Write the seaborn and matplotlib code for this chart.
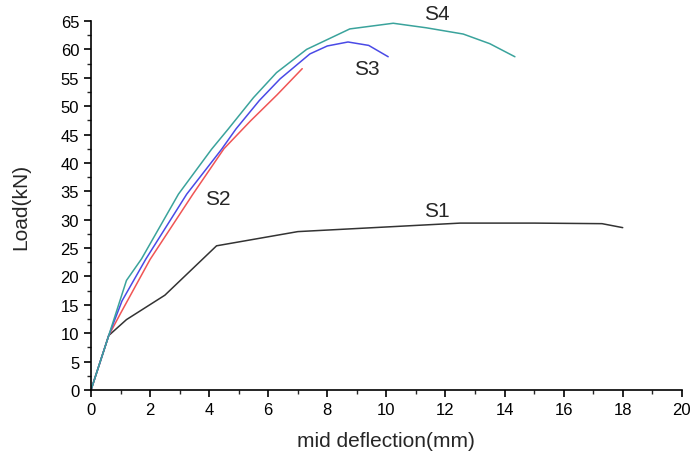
import matplotlib
matplotlib.use("Agg")
import matplotlib.pyplot as plt
import seaborn as sns
from matplotlib.ticker import MultipleLocator

# load-deflection curves
s1_x = [0, 0.6, 1.2, 2.5, 4.25, 7.0, 10.3, 12.5, 15.0, 17.3, 18.0]
s1_y = [0, 9.6, 12.4, 16.7, 25.4, 27.9, 28.8, 29.4, 29.4, 29.3, 28.6]

s2_x = [0, 0.6, 1.0, 2.0, 3.45, 4.5, 5.4, 6.3, 7.15]
s2_y = [0, 9.6, 13.5, 23.0, 34.5, 42.5, 47.4, 52.0, 56.6]

s3_x = [0, 0.6, 1.05, 1.86, 3.24, 4.42, 4.91, 5.7, 6.4, 7.41, 8.0, 8.7, 9.4, 10.06]
s3_y = [0, 9.6, 15.7, 23.1, 34.5, 42.4, 46.0, 51.0, 54.8, 59.2, 60.6, 61.3, 60.7, 58.7]

s4_x = [0, 0.6, 1.2, 1.71, 2.96, 4.08, 4.65, 5.5, 6.28, 7.3, 8.03, 8.76, 10.23, 11.35, 12.6, 13.5, 14.35]
s4_y = [0, 9.6, 19.3, 23.1, 34.5, 42.4, 46.0, 51.5, 55.9, 60.0, 61.8, 63.6, 64.6, 63.8, 62.7, 61.0, 58.7]

series = [
    ("S1", s1_x, s1_y, "#333333", (11.71, 31.6)),
    ("S2", s2_x, s2_y, "#f05555", (4.3, 33.8)),
    ("S3", s3_x, s3_y, "#4a4ae6", (9.34, 56.7)),
    ("S4", s4_x, s4_y, "#3aa39c", (11.71, 66.3)),
]

sns.set_style("ticks")
plt.rcParams['font.family'] = ['Liberation Sans', 'DejaVu Sans']

fig = plt.figure(figsize=(6.91, 4.56), dpi=100)
ax = fig.add_axes([0.1317, 0.1425, 0.855, 0.8093])

for name, xs, ys, col, pos in series:
    sns.lineplot(x=xs, y=ys, ax=ax, color=col, lw=1.1, sort=False, estimator=None)
    ax.text(pos[0], pos[1], name, fontsize=15, ha='center', va='center', clip_on=False)

ax.set_xlim(0, 20)
ax.set_ylim(0, 65)
ax.xaxis.set_major_locator(MultipleLocator(2))
ax.xaxis.set_minor_locator(MultipleLocator(1))
ax.yaxis.set_major_locator(MultipleLocator(5))
ax.yaxis.set_minor_locator(MultipleLocator(2.5))
ax.tick_params(which='major', length=5, width=1.2, labelsize=12, colors='black')
ax.tick_params(which='minor', length=3, width=1.0)
ax.set_xlabel('mid deflection(mm)', fontsize=15, labelpad=10)
ax.set_ylabel('Load(kN)', fontsize=15, labelpad=22)
sns.despine(ax=ax)
for sp in ['left', 'bottom']:
    ax.spines[sp].set_color('black')
    ax.spines[sp].set_linewidth(1.2)

fig.savefig("out.png", dpi=100)
